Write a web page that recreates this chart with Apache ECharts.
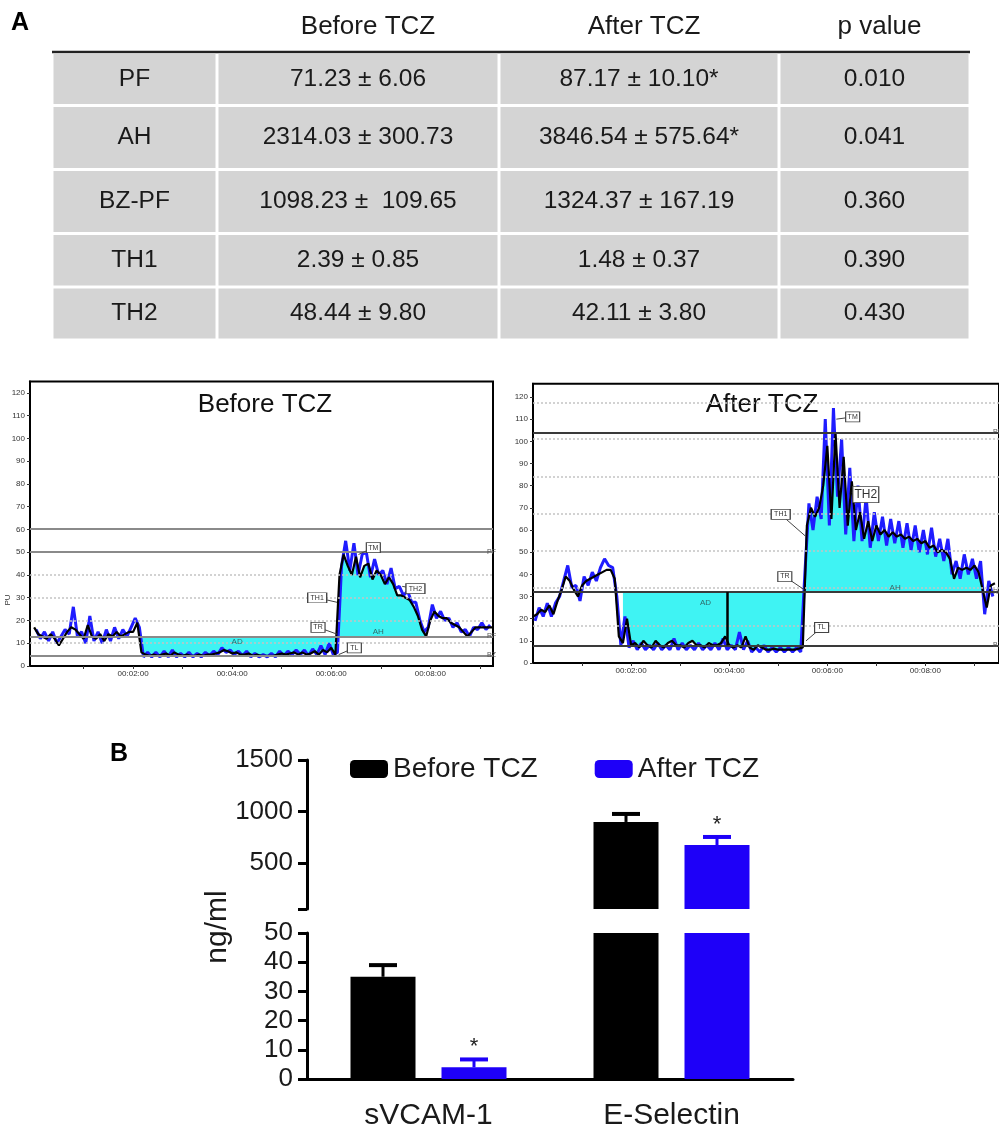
<!DOCTYPE html>
<html>
<head>
<meta charset="utf-8">
<script src="https://cdn.jsdelivr.net/npm/echarts@6/dist/echarts.min.js"></script>
<style>
  html, body { margin: 0; padding: 0; background: #fff; }
  #main { width: 999px; height: 1131px; }
</style>
</head>
<body>
<div id="main"></div>
<script>
// ---------- panel A : table ----------
const tableHeader = ['', 'Before TCZ', 'After TCZ', 'p value'];
const tableParams = ['PF', 'AH', 'BZ-PF', 'TH1', 'TH2'];
const tableBefore = ['71.23 ± 6.06', '2314.03 ± 300.73', '1098.23 ±  109.65', '2.39 ± 0.85', '48.44 ± 9.80'];
const tableAfter = ['87.17 ± 10.10*', '3846.54 ± 575.64*', '1324.37 ± 167.19', '1.48 ± 0.37', '42.11 ± 3.80'];
const tablePValue = ['0.010', '0.041', '0.360', '0.390', '0.430'];

// ---------- laser doppler traces (PU), samples every 5 s ----------
// before TCZ : black mean trace from t = 0 s, blue raw trace from t = 2.5 s
const leftMean = [
  17, 14, 13, 12, 14, 12, 9, 12, 15, 17,
  16, 14, 12, 18, 13, 12, 14, 11, 14, 13,
  15, 13, 14, 15, 15, 19, 6, 5, 4.5, 5,
  4.5, 5, 5.5, 4.5, 6, 5, 4.5, 5, 4.5, 4.5,
  5, 4.5, 5, 5, 5.5, 6, 7, 6.5, 5.5, 6,
  5, 5, 5.5, 4.5, 5, 4.5, 4.5, 4.5, 4.5, 5,
  5.5, 5, 5.5, 6, 5, 6, 5, 5.5, 6.5, 5,
  7, 6, 8, 5, 40, 49, 44, 40, 48, 39,
  44, 45, 38, 42, 40, 36, 39, 36, 31, 31,
  30, 29, 26, 22, 16, 13, 20, 24, 22, 21,
  21, 19, 18, 17, 15, 13, 15, 17, 17, 17,
  17, 17
];
const leftBlue = [
  16, 12, 15, 11, 15, 10, 13, 16, 14, 26,
  13, 15, 10, 22, 11, 15, 10, 16, 11, 17,
  12, 16, 13, 17, 21, 17, 4, 6, 4, 6,
  4, 6.5, 4, 7, 4, 5.5, 4, 6, 4, 5.5,
  4, 6, 4.5, 6.5, 5, 8, 6, 7, 5, 6.5,
  4.5, 6.5, 4, 5.5, 4, 5, 4, 5.5, 4, 6.5,
  4.5, 6.5, 5, 7, 5, 7, 4.5, 7.5, 5, 9,
  5, 10, 5, 6, 44, 55, 42, 54, 40, 49,
  50, 39, 47, 40, 42, 36, 43, 34, 35, 31,
  33, 28, 28, 20, 15, 17, 27, 21, 24, 20,
  21, 17, 19, 15, 16, 13, 17, 16, 19, 16,
  18
];
// after TCZ
const rightMean = [
  21, 22, 24, 23, 26, 22, 28, 33, 39, 37,
  33, 30, 35, 37, 38, 39, 40, 41, 42, 42,
  38, 12, 9, 20, 8, 9, 7, 10, 8, 7,
  10, 8, 7, 9, 10, 8, 8, 7, 9, 10,
  8, 8, 7, 9, 8, 8, 9, 12, 8, 7,
  8, 7, 12, 7, 6, 8, 7, 6, 6, 6.5,
  6, 6, 6, 6, 6, 6.5, 7, 62, 70, 66,
  70, 80, 98, 65, 104, 70, 93, 62, 82, 60,
  68, 56, 64, 55, 62, 58, 60, 57, 59, 57,
  58, 56, 57, 55, 56, 54, 55, 52, 53, 50,
  51, 50, 47, 38, 43, 42, 43, 42, 44, 41,
  33, 25, 35, 36
];
const rightBlue = [
  19, 25, 21, 27, 21, 27, 30, 37, 44, 34,
  35, 28, 39, 35, 41, 37, 43, 47, 44, 43,
  30, 8, 21, 7, 10, 6, 9, 6, 8, 6,
  9, 6, 8, 6, 11, 6, 9, 6, 8, 6,
  9, 6, 8, 6, 9, 6, 11, 6, 8, 6,
  14, 6, 10, 5, 7, 5, 8, 5, 7, 5,
  7, 5, 7, 5, 7, 5, 40, 72, 60, 75,
  65, 110, 62, 115, 75, 101, 58, 88, 55, 80,
  55, 75, 52, 68, 55, 66, 53, 65, 54, 64,
  52, 63, 51, 62, 50, 60, 49, 61, 48, 56,
  46, 56, 40, 46, 38, 49, 40, 47, 38, 46,
  22, 37, 30
];
const traceYTicks = [0, 10, 20, 30, 40, 50, 60, 70, 80, 90, 100, 110, 120];
const traceXTicks = [120, 240, 360, 480];
const leftLevels = { top: 60.5, PF: 50, RF: 13, BZ: 4.7 };
const rightLevels = { PF: 104, RF: 32, BZ: 8 };
const leftDotted = [10, 20, 30, 40];
const rightDotted = [17, 34, 50.5, 67.5, 84, 101, 117.5];
const leftFillRange = [130, 475];
const rightFillRange = [110, 550];
const rightMarkerT = 238;
const leftNotes = [
  { name: 'TM', t: 411, v: 52, lt: 393, lv: 49 },
  { name: 'TH1', t: 343, v: 30, lt: 367, lv: 28 },
  { name: 'TR', t: 344, v: 17, lt: 367, lv: 14 },
  { name: 'TL', t: 388, v: 8, lt: 369, lv: 5 },
  { name: 'TH2', t: 462, v: 34, lt: 446, lv: 35 }
];
const rightNotes = [
  { name: 'TM', t: 391, v: 111, lt: 371, lv: 110 },
  { name: 'TH2', t: 407, v: 76, lt: 390, lv: 77, big: true },
  { name: 'TH1', t: 303, v: 67, lt: 334, lv: 57 },
  { name: 'TR', t: 308, v: 39, lt: 332, lv: 33 },
  { name: 'TL', t: 353, v: 16, lt: 334, lv: 10 }
];
const leftAreaNotes = [{ name: 'AD', t: 246, v: 10.5 }, { name: 'AH', t: 417, v: 15 }];
const rightAreaNotes = [{ name: 'AD', t: 211, v: 27 }, { name: 'AH', t: 443, v: 34 }];

// ---------- panel B : bars (ng/ml) ----------
const barCategories = ['sVCAM-1', 'E-Selectin'];
const beforeMean = [35, 897];
const beforeErr = [4, 78];
const afterMean = [4, 673];
const afterErr = [2.7, 78];
const afterSig = [true, true];
const upperTicks = [500, 1000, 1500];
const lowerTicks = [0, 10, 20, 30, 40, 50];

// ---------- layout ----------
const FONT = 'Liberation Sans';
const TXT = '#1a1a1a';
const BLUE_BAR = '#1e00f8';
const BLUE_TRACE = '#1f1cff';
const CYAN = '#3ff3f3';
const tableColW = [165, 282, 280, 191];
const tableRowH = [52, 53.5, 64, 64, 53.5, 53];
const BAR_W = 65, BAR_GAP = 26;

const edges = a => a.reduce((acc, w) => { acc.push(acc[acc.length - 1] + w); return acc; }, [0]);
const colEdge = edges(tableColW);
const rowEdge = edges(tableRowH);

const tableCells = [];
tableHeader.forEach((t, c) => tableCells.push({ c, r: 0, text: t, head: true }));
tableParams.forEach((p, i) => {
  [p, tableBefore[i], tableAfter[i], tablePValue[i]].forEach((t, c) => tableCells.push({ c, r: i + 1, text: t }));
});

const pairs = (vals, t0) => vals.map((v, i) => [t0 + i * 5, v]);
const leftMeanPairs = pairs(leftMean, 0);
const leftBluePairs = pairs(leftBlue, 2.5);
const rightMeanPairs = pairs(rightMean, 0);
const rightBluePairs = pairs(rightBlue, 2.5);
const inRange = (p, r) => p[0] >= r[0] && p[0] <= r[1];

const fmtTime = t => '00:0' + (t / 60) + ':00';

function refLines(levels, dotted, darkTop) {
  const out = [];
  dotted.forEach(v => out.push({ yAxis: v, lineStyle: { color: '#c4c4c4', type: [2, 2], width: 1.5 }, label: { show: false } }));
  Object.keys(levels).forEach(k => {
    out.push({
      yAxis: levels[k],
      lineStyle: { color: darkTop ? '#3a3a3a' : '#8a8a8a', type: 'solid', width: 2 },
      label: { show: k !== 'top', position: 'end', formatter: k, fontSize: 7, color: '#555', distance: -6 }
    });
  });
  return out;
}
function notePoints(notes, areaNotes, fs) {
  const out = notes.map(n => ({
    coord: [n.t, n.v],
    symbol: 'rect',
    symbolSize: n.big ? [26, 16] : [n.name.length > 2 ? 19 : 14, 10],
    itemStyle: { color: '#fff', borderColor: '#444', borderWidth: 1 },
    label: { show: true, position: 'inside', formatter: n.name, fontSize: n.big ? 12 : fs, color: '#333' }
  }));
  areaNotes.forEach(n => out.push({
    coord: [n.t, n.v], symbolSize: 0,
    label: { show: true, position: 'inside', formatter: n.name, fontSize: 8, color: '#2f6b6b' }
  }));
  return out;
}
const leaders = notes => notes.map(n => [
  { coord: [n.t, n.v], lineStyle: { color: '#444', width: 1, type: 'solid' } },
  { coord: [n.lt, n.lv] }
]);

function traceAxes(grid, min, max, ymax) {
  return {
    x: {
      type: 'value', gridIndex: grid, min, max,
      axisLine: { onZero: false, lineStyle: { color: '#000', width: 2 } },
      axisTick: { customValues: [60, 120, 180, 240, 300, 360, 420, 480, 540], length: 3, lineStyle: { color: '#333' } },
      axisLabel: { customValues: traceXTicks, formatter: fmtTime, fontSize: 8, color: '#333', margin: 4 },
      splitLine: { show: false }
    },
    y: {
      type: 'value', gridIndex: grid, min: 0, max: ymax,
      axisLine: { onZero: false, lineStyle: { color: '#000', width: 2 } },
      axisTick: { customValues: traceYTicks, length: 3, lineStyle: { color: '#333' } },
      axisLabel: { customValues: traceYTicks, fontSize: 8, color: '#333', margin: 5 },
      splitLine: { show: false }
    }
  };
}
const leftAx = traceAxes(1, -5, 556, 125);
const rightAx = traceAxes(2, 0, 570, 126);

const errItems = [];
barCategories.forEach((c, i) => {
  errItems.push({ cat: i, mean: beforeMean[i], err: beforeErr[i], side: -1, sig: false });
  errItems.push({ cat: i, mean: afterMean[i], err: afterErr[i], side: 1, sig: afterSig[i] });
});
function renderErr(params, api) {
  const d = errItems[params.dataIndex];
  const cs = params.coordSys;
  const base = api.coord([d.cat, d.mean]);
  const top = api.coord([d.cat, d.mean + d.err]);
  if (base[1] < cs.y - 0.5 || base[1] > cs.y + cs.height + 0.5) return null;
  const cx = base[0] + d.side * (BAR_W + BAR_GAP) / 2;
  const col = d.side < 0 ? '#000' : BLUE_BAR;
  const ch = [
    { type: 'line', shape: { x1: cx, y1: base[1], x2: cx, y2: top[1] }, style: { stroke: col, lineWidth: 3 } },
    { type: 'line', shape: { x1: cx - 14, y1: top[1], x2: cx + 14, y2: top[1] }, style: { stroke: col, lineWidth: 4 } }
  ];
  if (d.sig) {
    ch.push({ type: 'text', style: { text: '*', x: cx, y: top[1] - 12, align: 'center', verticalAlign: 'middle', fontSize: 22, fontFamily: FONT, fill: '#222' } });
  }
  return { type: 'group', children: ch };
}

const option = {
  animation: false,
  textStyle: { fontFamily: FONT },
  grid: [
    { left: 52, top: 0, width: 918, height: 340 },
    { left: 30, top: 381.6, width: 463, height: 284.4, show: true, borderColor: '#000', borderWidth: 2, backgroundColor: 'transparent' },
    { left: 533, top: 383.7, width: 470, height: 279.3, show: true, borderColor: '#000', borderWidth: 2, backgroundColor: 'transparent' },
    { left: 307, top: 760, width: 486, height: 149 },
    { left: 307, top: 933, width: 486, height: 149 }
  ],
  xAxis: [
    { type: 'value', gridIndex: 0, min: 0, max: colEdge[colEdge.length - 1], show: false },
    leftAx.x,
    rightAx.x,
    { type: 'category', gridIndex: 3, data: barCategories, show: false },
    {
      type: 'category', gridIndex: 4, data: barCategories,
      axisLine: { lineStyle: { color: '#000', width: 3 } },
      axisTick: { show: false },
      axisLabel: { fontSize: 30, color: TXT, margin: 22 }
    }
  ],
  yAxis: [
    { type: 'value', gridIndex: 0, min: 0, max: rowEdge[rowEdge.length - 1], inverse: true, show: false },
    leftAx.y,
    rightAx.y,
    {
      type: 'value', gridIndex: 3, min: 50, max: 1500,
      axisLine: { show: true, lineStyle: { color: '#000', width: 3 } },
      axisTick: { show: true, customValues: [50].concat(upperTicks), length: 9, lineStyle: { width: 3 } },
      axisLabel: { customValues: upperTicks, formatter: v => String(v), fontSize: 26, color: TXT, margin: 14 },
      splitLine: { show: false }
    },
    {
      type: 'value', gridIndex: 4, min: 0, max: 50, interval: 10,
      axisLine: { show: true, lineStyle: { color: '#000', width: 3 } },
      axisTick: { show: true, customValues: lowerTicks, length: 9, lineStyle: { width: 3 } },
      axisLabel: { customValues: lowerTicks, formatter: v => String(v), fontSize: 26, color: TXT, margin: 14 },
      splitLine: { show: false }
    }
  ],
  legend: {
    data: ['Before TCZ', 'After TCZ'],
    left: 350, top: 755, itemWidth: 38, itemHeight: 18, itemGap: 57, padding: 0,
    icon: 'roundRect',
    textStyle: { fontSize: 28, color: TXT, fontFamily: FONT }
  },
  graphic: [
    { type: 'text', x: 11, y: 11, style: { text: 'A', fontSize: 25, fontWeight: 'bold', fill: '#000', fontFamily: FONT } },
    { type: 'text', x: 110, y: 742, style: { text: 'B', fontSize: 25, fontWeight: 'bold', fill: '#000', fontFamily: FONT } },
    { type: 'text', x: 265, y: 405, style: { text: 'Before TCZ', fontSize: 26, fill: '#111', align: 'center', verticalAlign: 'middle', fontFamily: FONT } },
    { type: 'text', x: 762, y: 405, style: { text: 'After TCZ', fontSize: 26, fill: '#111', align: 'center', verticalAlign: 'middle', fontFamily: FONT } },
    { type: 'text', x: 8, y: 600, rotation: Math.PI / 2, style: { text: 'PU', fontSize: 8, fill: '#333', align: 'center', verticalAlign: 'middle', fontFamily: FONT } },
    { type: 'text', x: 218, y: 927, rotation: Math.PI / 2, style: { text: 'ng/ml', fontSize: 30, fill: TXT, align: 'center', verticalAlign: 'middle', fontFamily: FONT } }
  ],
  series: [
    // table
    {
      type: 'custom', xAxisIndex: 0, yAxisIndex: 0, silent: true,
      data: tableCells.map(c => [c.c, c.r]),
      renderItem: (params, api) => {
        const cell = tableCells[params.dataIndex];
        const p0 = api.coord([colEdge[cell.c], rowEdge[cell.r]]);
        const p1 = api.coord([colEdge[cell.c + 1], rowEdge[cell.r + 1]]);
        const cx = (p0[0] + p1[0]) / 2, cy = (p0[1] + p1[1]) / 2;
        const ch = [];
        if (cell.head) {
          ch.push({ type: 'line', shape: { x1: p0[0], y1: p1[1], x2: p1[0], y2: p1[1] }, style: { stroke: '#222', lineWidth: 2.5 } });
          ch.push({ type: 'text', style: { text: cell.text, x: cx + (cell.c === 1 ? 10 : 5), y: cy + 1, align: 'center', verticalAlign: 'middle', fontSize: 26, fill: TXT, fontFamily: FONT } });
        } else {
          ch.push({ type: 'rect', shape: { x: p0[0] + 1.5, y: p0[1] + 1.5, width: p1[0] - p0[0] - 3, height: p1[1] - p0[1] - 3 }, style: { fill: '#d4d4d4' } });
          ch.push({ type: 'text', style: { text: cell.text, x: cx, y: cy, align: 'center', verticalAlign: 'middle', fontSize: 24.5, fill: TXT, fontFamily: FONT } });
        }
        return { type: 'group', children: ch };
      }
    },
    // before TCZ trace
    {
      name: 'left fill', type: 'line', xAxisIndex: 1, yAxisIndex: 1, z: 1,
      data: leftMeanPairs.filter(p => inRange(p, leftFillRange)),
      symbol: 'none', lineStyle: { width: 0 },
      areaStyle: { color: CYAN, opacity: 1, origin: leftLevels.RF },
      markLine: { silent: true, symbol: 'none', data: refLines(leftLevels, leftDotted, false) }
    },
    { name: 'left raw', type: 'line', xAxisIndex: 1, yAxisIndex: 1, z: 3, data: leftBluePairs, symbol: 'none', lineStyle: { color: BLUE_TRACE, width: 3 } },
    {
      name: 'left mean', type: 'line', xAxisIndex: 1, yAxisIndex: 1, z: 4, data: leftMeanPairs, symbol: 'none',
      lineStyle: { color: '#000', width: 2.2 },
      markLine: { silent: true, symbol: 'none', data: leaders(leftNotes) },
      markPoint: { silent: true, data: notePoints(leftNotes, leftAreaNotes, 7) }
    },
    // after TCZ trace
    {
      name: 'right fill', type: 'line', xAxisIndex: 2, yAxisIndex: 2, z: 1,
      data: rightMeanPairs.filter(p => inRange(p, rightFillRange)),
      symbol: 'none', lineStyle: { width: 0 },
      areaStyle: { color: CYAN, opacity: 1, origin: rightLevels.RF },
      markLine: { silent: true, symbol: 'none', data: refLines(rightLevels, rightDotted, true) }
    },
    { name: 'right raw', type: 'line', xAxisIndex: 2, yAxisIndex: 2, z: 3, data: rightBluePairs, symbol: 'none', lineStyle: { color: BLUE_TRACE, width: 3 } },
    {
      name: 'right mean', type: 'line', xAxisIndex: 2, yAxisIndex: 2, z: 4, data: rightMeanPairs, symbol: 'none',
      lineStyle: { color: '#000', width: 2.2 },
      markLine: {
        silent: true, symbol: 'none',
        data: leaders(rightNotes).concat([[
          { coord: [rightMarkerT, rightLevels.BZ], lineStyle: { color: '#000', width: 2.5, type: 'solid' } },
          { coord: [rightMarkerT, rightLevels.RF] }
        ]])
      },
      markPoint: { silent: true, data: notePoints(rightNotes, rightAreaNotes, 7) }
    },
    // bars, upper (broken) panel
    { name: 'Before TCZ', type: 'bar', xAxisIndex: 3, yAxisIndex: 3, data: beforeMean, barWidth: BAR_W, barGap: (BAR_GAP / BAR_W * 100) + '%', itemStyle: { color: '#000' } },
    { name: 'After TCZ', type: 'bar', xAxisIndex: 3, yAxisIndex: 3, data: afterMean, barWidth: BAR_W, itemStyle: { color: BLUE_BAR } },
    { type: 'custom', xAxisIndex: 3, yAxisIndex: 3, data: errItems.map(d => [d.cat, d.mean]), renderItem: renderErr, z: 5 },
    // bars, lower panel
    { name: 'Before TCZ', type: 'bar', xAxisIndex: 4, yAxisIndex: 4, data: beforeMean, barWidth: BAR_W, barGap: (BAR_GAP / BAR_W * 100) + '%', itemStyle: { color: '#000' } },
    { name: 'After TCZ', type: 'bar', xAxisIndex: 4, yAxisIndex: 4, data: afterMean, barWidth: BAR_W, itemStyle: { color: BLUE_BAR } },
    { type: 'custom', xAxisIndex: 4, yAxisIndex: 4, data: errItems.map(d => [d.cat, d.mean]), renderItem: renderErr, z: 5 }
  ]
};

const chart = echarts.init(document.getElementById('main'));
chart.setOption(option);
window.addEventListener('resize', function () {
  chart.resize();
});
</script>
</body>
</html>
